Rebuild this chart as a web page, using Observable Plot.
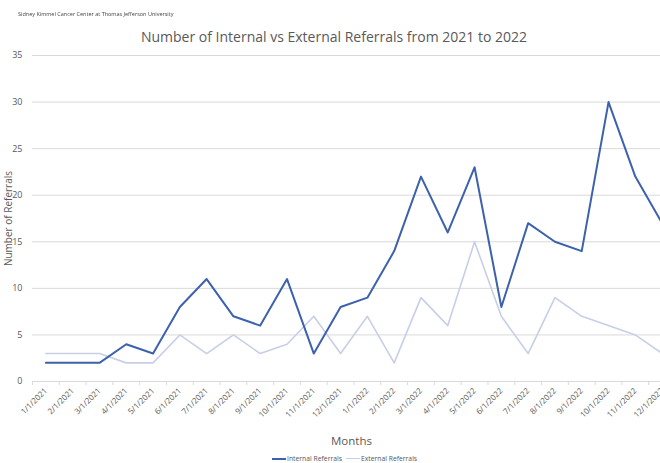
<!DOCTYPE html>
<html>
<head>
<meta charset="utf-8">
<script src="https://cdn.jsdelivr.net/npm/d3@7"></script>
<script src="https://cdn.jsdelivr.net/npm/@observablehq/plot@0.6"></script>
<style>
  html, body { margin: 0; padding: 0; background: #fff; overflow: hidden; }
  #wrap { position: relative; width: 660px; height: 463px; overflow: hidden; font-family: "Open Sans", "Noto Sans", sans-serif; color: #595959; }
  #chart { position: absolute; left: 0; top: 0; width: 676px; }
  #chart svg { max-width: none !important; width: 676px; height: 463px; }
  .abs { position: absolute; white-space: nowrap; }
  #header { left: 18px; top: 10px; font-size: 5.5px; color: #444; filter: blur(0.5px); }
  #title { left: 0; width: 668px; text-align: center; top: 27px; font-size: 14px; color: #595959; }
  #xlabel { left: 331px; top: 433px; font-size: 11.5px; color: #595959; }
  #legend { left: 272px; top: 454px; font-size: 6.8px; color: #595959; display: flex; align-items: center; }
  .sw { display: inline-block; width: 14px; height: 0; margin-right: 1px; }
</style>
</head>
<body>
<div id="wrap">
  <div id="chart"></div>
  <div class="abs" id="header">Sidney Kimmel Cancer Center at Thomas Jefferson University</div>
  <div class="abs" id="title">Number of Internal vs External Referrals from 2021 to 2022</div>
  <div class="abs" id="xlabel">Months</div>
  <div class="abs" id="legend"></div>
</div>
<script>
const months = ["1/1/2021","2/1/2021","3/1/2021","4/1/2021","5/1/2021","6/1/2021","7/1/2021","8/1/2021","9/1/2021","10/1/2021","11/1/2021","12/1/2021",
                "1/1/2022","2/1/2022","3/1/2022","4/1/2022","5/1/2022","6/1/2022","7/1/2022","8/1/2022","9/1/2022","10/1/2022","11/1/2022","12/1/2022"];
const internalReferrals = [2,2,2,4,3,8,11,7,6,11,3,8,9,14,22,16,23,8,17,15,14,30,22,17];
const externalReferrals = [3,3,3,2,2,5,3,5,3,4,7,3,7,2,9,6,15,7,3,9,7,6,5,3];
const seriesNames = ["Internal Referrals", "External Referrals"];
const seriesColors = ["#3c62ad", "#c7cfe7"];
const yTicks = [0,5,10,15,20,25,30,35];

const rows = [];
months.forEach((m, i) => {
  rows.push({i, month: m, value: internalReferrals[i], series: seriesNames[0]});
  rows.push({i, month: m, value: externalReferrals[i], series: seriesNames[1]});
});
const boundaries = d3.range(months.length + 1).map(k => k - 0.5);

const plot = Plot.plot({
  width: 676,
  height: 463,
  marginLeft: 32,
  marginRight: 1,
  marginTop: 55,
  marginBottom: 82,
  style: {fontFamily: "'Open Sans', 'Noto Sans', sans-serif", color: "#595959", background: "transparent", maxWidth: "none"},
  x: {type: "linear", domain: [-0.5, months.length - 0.5]},
  y: {domain: [0, 35]},
  marks: [
    Plot.gridY(yTicks.slice(1), {stroke: "#d9d9d9", strokeOpacity: 1, strokeWidth: 1}),
    Plot.ruleY([0], {stroke: "#d9d9d9", strokeWidth: 1}),
    Plot.axisY(yTicks, {tickSize: 0, tickPadding: 10, fontSize: 9, fill: "#595959", label: null}),
    Plot.axisX(boundaries, {tickSize: 4, stroke: "#d9d9d9", tickFormat: () => "", label: null}),
    Plot.axisX(d3.range(months.length), {tickSize: 0, tickPadding: 8, tickRotate: -45, fontSize: 8, fill: "#595959",
      tickFormat: i => months[i], label: null}),
    Plot.text(["Number of Referrals"], {frameAnchor: "left", dx: -24, dy: 0, rotate: -90, fontSize: 10, fill: "#595959", textAnchor: "middle"}),
    Plot.line(rows.filter(d => d.series === seriesNames[1]), {x: "i", y: "value", stroke: seriesColors[1], strokeWidth: 1.6}),
    Plot.line(rows.filter(d => d.series === seriesNames[0]), {x: "i", y: "value", stroke: seriesColors[0], strokeWidth: 2})
  ]
});
document.getElementById("chart").appendChild(plot);

const legend = document.getElementById("legend");
seriesNames.forEach((name, k) => {
  const item = document.createElement("span");
  item.style.display = "inline-flex";
  item.style.alignItems = "center";
  item.style.marginRight = "4px";
  const sw = document.createElement("span");
  sw.className = "sw";
  sw.style.borderTop = (k === 0 ? "2px" : "1.5px") + " solid " + seriesColors[k];
  item.appendChild(sw);
  item.appendChild(document.createTextNode(name));
  legend.appendChild(item);
});
</script>
</body>
</html>
